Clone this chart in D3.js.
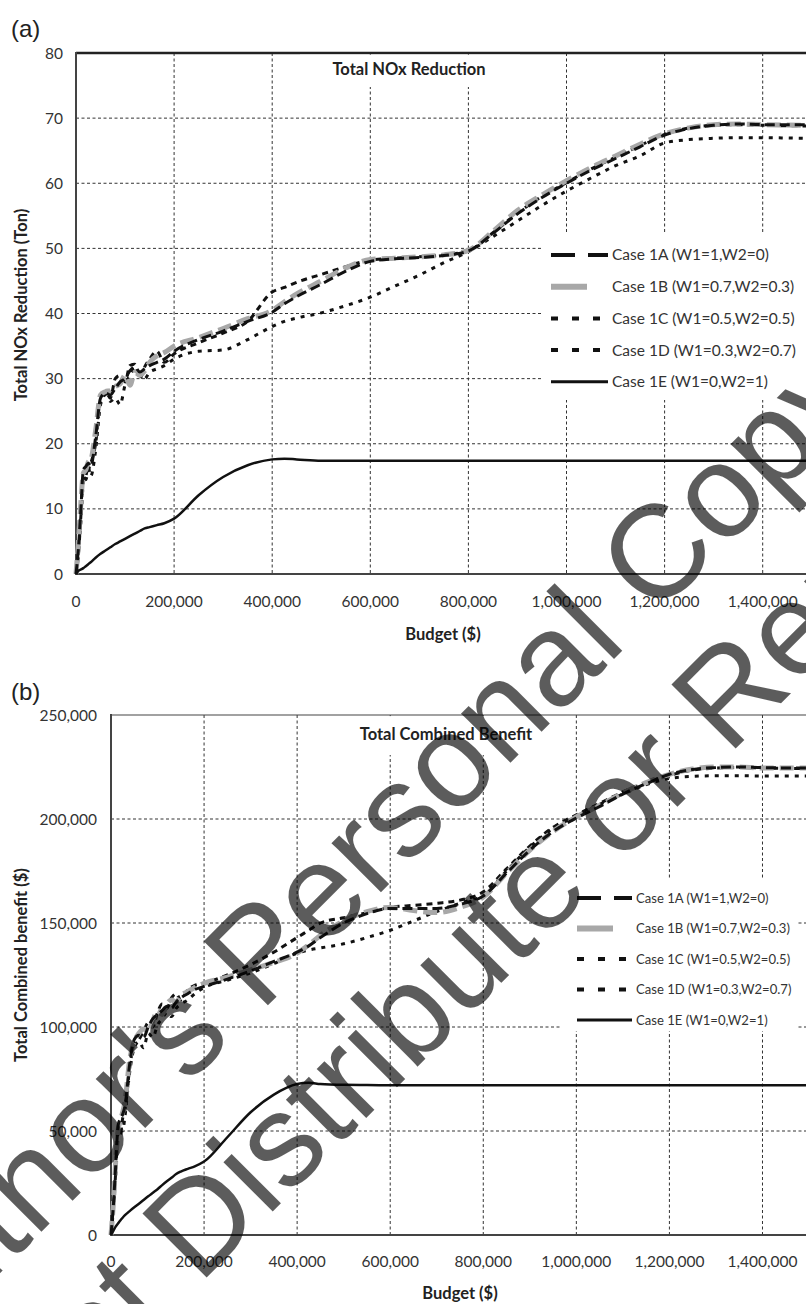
<!DOCTYPE html>
<html>
<head>
<meta charset="utf-8">
<script src="https://cdn.jsdelivr.net/npm/d3@7"></script>
<style>
  body { margin: 0; background: #fff; }
  svg { display: block; }
  .tick-label { font-family: Lato, "Open Sans", sans-serif; font-size: 15.5px; fill: #333; }
  .axis-title { font-family: Lato, "Open Sans", sans-serif; font-size: 16.5px; font-weight: bold; fill: #222; }
  .panel-tag { font-family: "Liberation Sans", Arial, sans-serif; font-size: 24px; fill: #222; }
</style>
</head>
<body>
<div id="chart"></div>
<script>
// Budget steps shared by every series ($)
var budget = [0, 5000, 10000, 15000, 20000, 25000, 30000, 40000, 50000, 60000, 70000, 80000, 90000, 100000,
    110000, 120000, 130000, 140000, 150000, 165000, 180000, 200000, 250000, 300000, 350000, 400000, 425000,
    450000, 500000, 550000, 600000, 650000, 700000, 750000, 800000, 850000, 900000, 950000, 1000000, 1050000,
    1100000, 1150000, 1200000, 1250000, 1300000, 1350000, 1400000, 1500000, 1600000];

var caseNames = ["Case 1A (W1=1,W2=0)", "Case 1B (W1=0.7,W2=0.3)", "Case 1C (W1=0.5,W2=0.5)",
    "Case 1D (W1=0.3,W2=0.7)", "Case 1E (W1=0,W2=1)"];

// (a) Total NOx reduction (ton)
var noxA = [0, 4, 10, 16, 16.5, 17, 16.5, 21, 27, 27.8, 27.5, 28.5, 29.5, 30, 31.2, 31.8, 31, 31.5, 32, 32.5, 33, 34.2,
    36, 37.3, 38.8, 40.2, 41.5, 42.6, 44.5, 46.5, 48, 48.4, 48.6, 48.9, 49.6, 52.3, 55.3, 57.8, 60, 62, 63.8, 65.6,
    67.4, 68.4, 68.9, 69.1, 69, 69, 69];
var noxB = [0, 5, 11, 15.5, 16, 17.2, 17.5, 22, 27.5, 28, 28.2, 28.8, 29.2, 30.5, 29, 31, 30.5, 31.2, 32.5, 33.5, 34, 35,
    36.3, 37.7, 39.2, 40.5, 41.8, 43, 45, 47, 48.3, 48.5, 48.7, 49, 49.7, 52.6, 55.8, 58.2, 60.4, 62.4, 64.2, 66,
    67.6, 68.5, 69, 69.1, 69, 68.9, 68.9];
var noxC = [0, 3, 9, 15, 14.5, 16, 17, 20, 26.5, 28, 27, 30, 30.5, 29.5, 32, 32.2, 30, 31.8, 33, 34.2, 32.5, 33.8,
    35.5, 37, 38.8, 43.3, 44, 44.8, 46, 47.2, 48.2, 48.5, 48.7, 49, 49.6, 52.4, 55.4, 58, 60.1, 62.2, 64, 65.8,
    67.5, 68.5, 68.9, 69, 68.9, 68.8, 68.8];
var noxD = [0, 3.5, 8, 14, 15, 16.5, 15, 19, 26, 27.5, 26.5, 27, 26, 29, 30.5, 31.5, 30.8, 30, 31, 31.5, 32, 33,
    34.2, 34.4, 36, 38, 38.8, 39.3, 40.1, 41.2, 42.5, 44.2, 45.9, 47.8, 49.5, 51.8, 54.2, 56.6, 58.8, 60.8, 62.7, 64.2,
    66.2, 66.7, 66.9, 67, 67, 66.9, 66.9];
var noxE = [0, 0.5, 0.7, 0.9, 1.2, 1.5, 1.8, 2.5, 3.1, 3.6, 4.1, 4.6, 5.0, 5.4, 5.8, 6.2, 6.6, 7.0, 7.2, 7.5, 7.8, 8.5,
    12.1, 14.9, 16.7, 17.6, 17.7, 17.6, 17.4, 17.4, 17.4, 17.4, 17.4, 17.4, 17.4, 17.4, 17.4, 17.4, 17.4, 17.4, 17.4,
    17.4, 17.4, 17.4, 17.4, 17.4, 17.4, 17.4, 17.4];

// (b) Total combined benefit ($)
var benA = [0, 14000, 33000, 52000, 56000, 58000, 62000, 82000, 94000, 96000, 95000, 100000, 104000, 106000,
    108000, 110000, 109000, 112000, 114000, 116000, 118000, 119500, 123000, 127000, 131500, 136000, 139000,
    143000, 150000, 154500, 157000, 157000, 157000, 159000, 163000, 174000, 185000, 194000, 200500, 206000,
    212000, 217000, 221500, 223800, 224800, 225000, 224700, 224500, 224500];
var benB = [0, 15000, 35000, 50000, 55000, 59000, 64000, 84000, 93000, 97000, 99000, 98000, 103000, 108000,
    106000, 111000, 113000, 112000, 115000, 117000, 119000, 121000, 124000, 127500, 131000, 135500, 139500,
    144000, 151000, 155500, 157500, 156000, 155000, 157500, 162500, 174000, 185000, 194000, 201000, 206500,
    212500, 217500, 221500, 224000, 225000, 225000, 224500, 224500, 224300];
var benC = [0, 12000, 30000, 50000, 48000, 56000, 60000, 80000, 92000, 94000, 98000, 102000, 100000, 107000,
    111000, 109000, 114000, 116000, 113000, 118000, 120000, 121000, 125000, 130000, 136000, 143000, 146500,
    150000, 152500, 155000, 157500, 158500, 159500, 161000, 165000, 176000, 187000, 196000, 202000, 207500,
    213000, 217500, 221000, 223500, 224500, 224800, 224500, 224300, 224300];
var benD = [0, 13000, 28000, 47000, 52000, 50000, 57000, 78000, 90000, 93000, 90000, 97000, 95000, 101000,
    104000, 107000, 105000, 109000, 111000, 113000, 116000, 119000, 122500, 126000, 130500, 135500, 137000,
    138000, 140000, 143000, 146500, 151000, 155500, 159500, 163500, 175000, 186500, 195500, 201500, 207000,
    212000, 216500, 219500, 220500, 220800, 220800, 220700, 220700, 220700];
var benE = [0, 2000, 4000, 5500, 7000, 8300, 9500, 11500, 13300, 15000, 16800, 18600, 20300, 22000,
    24000, 25800, 27500, 29300, 30500, 31800, 33000, 35300, 47000, 59000, 67500, 72600, 73200,
    72600, 72200, 72100, 72000, 72000, 72000, 72000, 72000, 72000, 72000, 72000, 72000, 72000,
    72000, 72000, 72000, 72000, 72000, 72000, 72000, 72000, 72000];

// the axis runs to 1,600,000 but the picture is cut just past 1,400,000
var xTicks = [0, 200000, 400000, 600000, 800000, 1000000, 1200000, 1400000, 1600000];
var xLabelTicks = [0, 200000, 400000, 600000, 800000, 1000000, 1200000, 1400000];
var noxTicks = [0, 10, 20, 30, 40, 50, 60, 70, 80];
var benTicks = [0, 50000, 100000, 150000, 200000, 250000];

// line styles for the plot and for the legend samples
var styles = [
    { color: "#111", width: 3, dash: "10,5", legendWidth: 4, legendDash: "24,13" },
    { color: "#a8a8a8", width: 5, dash: "14,6", legendWidth: 6, legendDash: "36,21" },
    { color: "#111", width: 3, dash: "6,5", legendWidth: 4, legendDash: "7,14" },
    { color: "#111", width: 3, dash: "4,6", legendWidth: 4, legendDash: "7,14" },
    { color: "#111", width: 2.5, dash: null, legendWidth: 3, legendDash: null }
];

var svgWidth = 806;
var svgHeight = 1304;

var svg = d3.select("#chart").append("svg")
    .attr("width", svgWidth)
    .attr("height", svgHeight);

var panels = [
    {
        tag: "(a)", tagY: 37, title: "Total NOx Reduction", yTitle: "Total NOx Reduction (Ton)",
        left: 76, top: 53, bottom: 574, step: 98.1, yMax: 80, yTicks: noxTicks, yFormat: d3.format("d"),
        series: [noxA, noxB, noxC, noxD, noxE], labelRight: 63, xLabelY: 607, xTitleX: 443, xTitleY: 640,
        yTitleY: 305, titleBox: [300, 520, 87], titleX: 409, titleY: 75, topWidth: 2.4, topColor: "#222",
        legend: { x0: 543, x1: 810, y0: 234, y1: 400, rowY: 255, gap: 31.7, sx0: 551, sx1: 608, tx: 612, font: 15.5 }
    },
    {
        tag: "(b)", tagY: 700, title: "Total Combined Benefit", yTitle: "Total Combined benefit ($)",
        left: 111, top: 715, bottom: 1235, step: 93.07, yMax: 250000, yTicks: benTicks, yFormat: d3.format(","),
        series: [benA, benB, benC, benD, benE], labelRight: 97, xLabelY: 1267, xTitleX: 460, xTitleY: 1299,
        yTitleY: 965, titleBox: [320, 560, 755], titleX: 446, titleY: 740, topWidth: 1.2, topColor: "#444",
        legend: { x0: 561, x1: 798, y0: 880, y1: 1031, rowY: 898, gap: 30.5, sx0: 577, sx1: 632, tx: 636, font: 13.1 }
    }
];

panels.forEach(function(p, pi) {
    var xRight = p.left + p.step * 8;
    var x = d3.scaleLinear().domain([0, 1600000]).range([p.left, xRight]);
    var y = d3.scaleLinear().domain([0, p.yMax]).range([p.bottom, p.top]);

    var g = svg.append("g");

    // dotted gridlines
    g.selectAll(".hgrid")
        .data(p.yTicks.slice(1, -1))
        .enter()
        .append("line")
        .attr("x1", p.left).attr("x2", xRight)
        .attr("y1", d => y(d)).attr("y2", d => y(d))
        .attr("stroke", "#333").attr("stroke-width", 1).attr("stroke-dasharray", "3,2.5");

    g.selectAll(".vgrid")
        .data(xTicks.slice(1))
        .enter()
        .append("line")
        .attr("x1", d => x(d)).attr("x2", d => x(d))
        .attr("y1", p.top).attr("y2", p.bottom)
        .attr("stroke", "#333").attr("stroke-width", 1).attr("stroke-dasharray", "3,2.5");

    // plot frame: top, left, bottom
    g.append("line").attr("x1", p.left).attr("x2", xRight).attr("y1", p.top).attr("y2", p.top)
        .attr("stroke", p.topColor).attr("stroke-width", p.topWidth);
    g.append("line").attr("x1", p.left).attr("x2", p.left).attr("y1", p.top - 1).attr("y2", p.bottom)
        .attr("stroke", "#444").attr("stroke-width", 2);
    g.append("line").attr("x1", p.left - 1).attr("x2", xRight).attr("y1", p.bottom).attr("y2", p.bottom)
        .attr("stroke", "#444").attr("stroke-width", 2);

    // title sits on a white box over the grid
    g.append("rect")
        .attr("x", p.titleBox[0]).attr("y", p.top + p.topWidth / 2 + 0.5)
        .attr("width", p.titleBox[1] - p.titleBox[0]).attr("height", p.titleBox[2] - p.top - p.topWidth / 2 - 0.5)
        .attr("fill", "#fff");
    g.append("text")
        .classed("axis-title", true)
        .attr("x", p.titleX).attr("y", p.titleY)
        .attr("text-anchor", "middle")
        .text(p.title);

    // legend box
    var lg = p.legend;
    g.append("rect")
        .attr("x", lg.x0).attr("y", lg.y0)
        .attr("width", lg.x1 - lg.x0).attr("height", lg.y1 - lg.y0)
        .attr("fill", "#fff");

    // series
    var line = d3.line()
        .x((d, i) => x(budget[i]))
        .y(d => y(d))
        .curve(d3.curveMonotoneX);

    var order = [3, 2, 1, 0, 4];
    order.forEach(function(k) {
        g.append("path")
            .datum(p.series[k])
            .attr("d", line)
            .attr("fill", "none")
            .attr("stroke", styles[k].color)
            .attr("stroke-width", styles[k].width)
            .attr("stroke-dasharray", styles[k].dash)
            .attr("stroke-linejoin", "round");
    });

    // legend rows
    var rows = g.selectAll(".legend-row")
        .data(caseNames)
        .enter()
        .append("g")
        .attr("transform", (d, i) => `translate(0, ${lg.rowY + i * lg.gap})`);

    rows.append("line")
        .attr("x1", lg.sx0).attr("x2", lg.sx1)
        .attr("y1", 0).attr("y2", 0)
        .attr("stroke", (d, i) => styles[i].color)
        .attr("stroke-width", (d, i) => styles[i].legendWidth)
        .attr("stroke-dasharray", (d, i) => styles[i].legendDash);

    rows.append("text")
        .attr("x", lg.tx).attr("y", 0).attr("dy", "0.35em")
        .style("font-family", "Lato, 'Open Sans', sans-serif")
        .style("font-size", lg.font + "px")
        .attr("fill", "#333")
        .text(d => d);

    // tick labels
    g.selectAll(".ylab")
        .data(p.yTicks)
        .enter()
        .append("text")
        .classed("tick-label", true)
        .attr("x", p.labelRight).attr("y", d => y(d)).attr("dy", "0.36em")
        .attr("text-anchor", "end")
        .text(d => p.yFormat(d));

    g.selectAll(".xlab")
        .data(xLabelTicks)
        .enter()
        .append("text")
        .classed("tick-label", true)
        .attr("x", d => x(d)).attr("y", p.xLabelY)
        .attr("text-anchor", "middle")
        .text(d => d3.format(",")(d));

    // axis titles
    g.append("text")
        .classed("axis-title", true)
        .attr("x", p.xTitleX).attr("y", p.xTitleY)
        .attr("text-anchor", "middle")
        .text("Budget ($)");

    g.append("text")
        .classed("axis-title", true)
        .attr("transform", `translate(27, ${p.yTitleY}) rotate(-90)`)
        .attr("text-anchor", "middle")
        .text(p.yTitle);

    g.append("text")
        .classed("panel-tag", true)
        .attr("x", 11).attr("y", p.tagY)
        .text(p.tag);
});

// watermark across both panels
var watermark = [
    { text: "Author's Personal Copy", cx: 350, cy: 856 },
    { text: "Do Not Distribute or Reproduce", cx: 500, cy: 917 }
];

svg.selectAll(".watermark")
    .data(watermark)
    .enter()
    .append("text")
    .attr("transform", d => `translate(${d.cx}, ${d.cy}) rotate(-45)`)
    .attr("text-anchor", "middle")
    .attr("dy", "0.36em")
    .style("font-family", "'Liberation Sans', Arial, sans-serif")
    .style("font-size", "132px")
    .attr("fill", "#000")
    .attr("fill-opacity", 0.64)
    .text(d => d.text);
</script>
</body>
</html>
